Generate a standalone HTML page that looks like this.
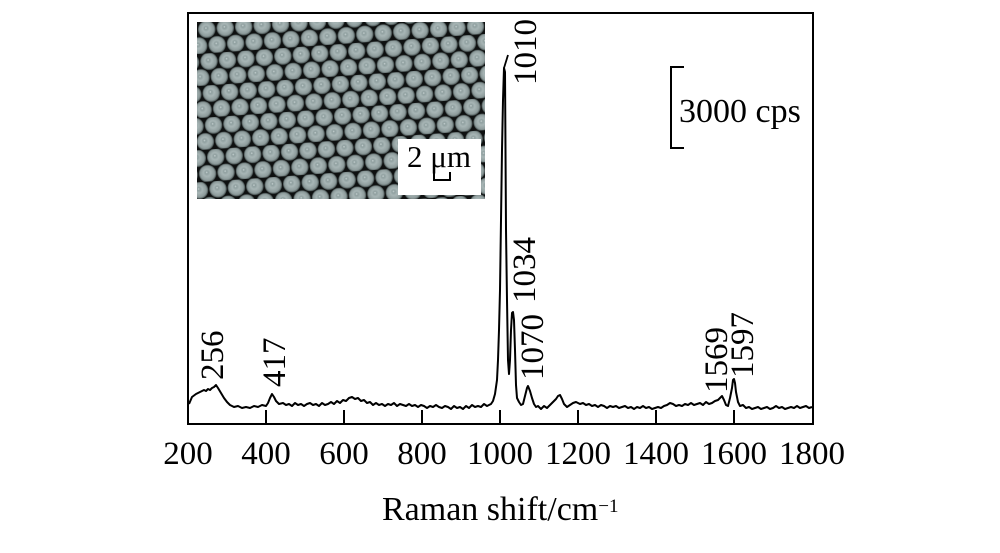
<!DOCTYPE html>
<html><head><meta charset="utf-8"><style>
html,body{margin:0;padding:0;background:#fff;}
svg{display:block;}
text{font-family:"Liberation Serif","Times New Roman",serif;fill:#000;}
</style></head><body>
<svg width="1000" height="553" viewBox="0 0 1000 553" xmlns="http://www.w3.org/2000/svg">
<defs>
<radialGradient id="sph" cx="50%" cy="50%" r="50%" fx="45%" fy="42%">
<stop offset="0" stop-color="#d2dcdc"/>
<stop offset="0.15" stop-color="#8e9e9e"/>
<stop offset="0.4" stop-color="#a8b6b6"/>
<stop offset="0.82" stop-color="#8c9a9a"/>
<stop offset="1" stop-color="#404a4a"/>
</radialGradient>
<pattern id="hex" width="18.5" height="32" patternUnits="userSpaceOnUse" patternTransform="translate(197,22) rotate(-4)">
<rect width="18.5" height="32" fill="#0e1010"/>
<circle cx="9.25" cy="8" r="8.8" fill="url(#sph)"/>
<circle cx="0" cy="24" r="8.8" fill="url(#sph)"/>
<circle cx="18.5" cy="24" r="8.8" fill="url(#sph)"/>
</pattern>
</defs>

<!-- inset -->
<rect x="197" y="22" width="288" height="177" fill="url(#hex)"/>
<rect x="398" y="139" width="83" height="56" fill="#fff"/>
<text x="407" y="167" font-size="31">2 μm</text>
<path d="M434,172 V180 H450 V172" fill="none" stroke="#000" stroke-width="2"/>

<!-- frame -->
<rect x="188" y="13" width="625" height="411" fill="none" stroke="#000" stroke-width="2"/>
<!-- ticks -->
<g stroke="#000" stroke-width="2">
<line x1="266" y1="410" x2="266" y2="424"/>
<line x1="344" y1="410" x2="344" y2="424"/>
<line x1="422" y1="410" x2="422" y2="424"/>
<line x1="500" y1="410" x2="500" y2="424"/>
<line x1="578" y1="410" x2="578" y2="424"/>
<line x1="656" y1="410" x2="656" y2="424"/>
<line x1="734" y1="410" x2="734" y2="424"/>
</g>
<g font-size="33" text-anchor="middle">
<text x="188" y="464">200</text>
<text x="266" y="464">400</text>
<text x="344" y="464">600</text>
<text x="422" y="464">800</text>
<text x="500" y="464">1000</text>
<text x="578" y="464">1200</text>
<text x="656" y="464">1400</text>
<text x="734" y="464">1600</text>
<text x="812" y="464">1800</text>
</g>
<text x="382" y="520" font-size="34">Raman shift/cm<tspan font-size="19" dy="-8">−1</tspan></text>

<!-- spectrum -->
<polyline fill="none" stroke="#000" stroke-width="2" stroke-linejoin="round" points="
189,404 192,397 196,394 200,392 204,390 206,391 208,389 210,390 212,388 214,387 216,385 218,388 221,393 224,398 227,402 230,405 234,407 238,406 242,408 246,407 250,408 254,406 258,407 262,405 266,406 268,403 270,398 272,394 274,397 276,401 279,404
283,403 286,405 289,404 292,406 295,403 298,405 301,404 304,406 307,404 310,403 313,405 316,404 319,406 322,403 325,405 328,404 331,402 334,404 337,401 340,403 343,400 346,401 349,398 352,397 355,399 358,398 361,401 364,400 367,403 370,402 373,405 376,403 379,405 382,404 385,406 388,404 391,405 394,403 397,406 400,404 403,405 406,406 409,404 412,406 415,405 418,407 421,405 424,406 427,408 430,406 433,407 436,405 439,407 442,408 445,406 448,407 451,409 454,406 457,408 460,407 463,409 466,406 469,408 472,405 475,407 478,406 481,407 484,404 487,406
489,405 491,404 493,401 495,394 497,380 498,360 499,330 500,290 501,220 502,150 503,100 504,68 505,72 505.5,150 506,230 507,300 508,360 509,374 510,360 511,330 512,313 513,312 514,320 515,350 516,385 517,398 519,402 521,405 523,404 525,396 527,388 528,386 530,391 532,398 534,404 536,407 538,406 541,409 544,406 547,408 550,405 553,402 556,399 558,396 560,395 562,399 564,404 567,407 570,405 573,403 576,402 578,403
580,404 583,403 586,405 589,404 592,406 595,405 598,407 601,405 604,406 607,408 610,406 613,407 616,406 619,408 622,407 625,406 628,408 631,407 634,409 637,407 640,408 643,406 646,408 649,407 652,409 655,408 658,407 661,408 664,406 667,405 670,403 673,404 676,406 679,405 682,406 685,404 688,405 691,403 694,405 697,404 700,403 703,405 706,402 709,404 712,403 715,401 718,400 720,398 722,396 724,400 726,405 728,406 730,398 732,388 733,380 734,379 735,383 736,392 738,402 740,406 743,405 746,408 749,407 752,409 755,408 758,407 761,409 764,408 767,407 770,409 773,408 776,406 779,408 782,407 785,409 788,408 791,407 794,408 797,406 800,408 803,407 806,406 809,408 812,407"/>
<line x1="504" y1="68" x2="508" y2="55" stroke="#000" stroke-width="1.8"/>

<!-- peak labels -->
<g font-size="33">
<text transform="translate(223,380) rotate(-90)">256</text>
<text transform="translate(285,387) rotate(-90)">417</text>
<text transform="translate(536,85) rotate(-90)">1010</text>
<text transform="translate(535,303) rotate(-90)">1034</text>
<text transform="translate(543,380) rotate(-90)">1070</text>
<text transform="translate(727,393) rotate(-90)">1569</text>
<text transform="translate(753,378) rotate(-90)">1597</text>
</g>

<!-- scale bar -->
<path d="M684,67 H671 V148 H684" fill="none" stroke="#000" stroke-width="2"/>
<text x="679" y="122" font-size="34">3000 cps</text>
</svg>
</body></html>
